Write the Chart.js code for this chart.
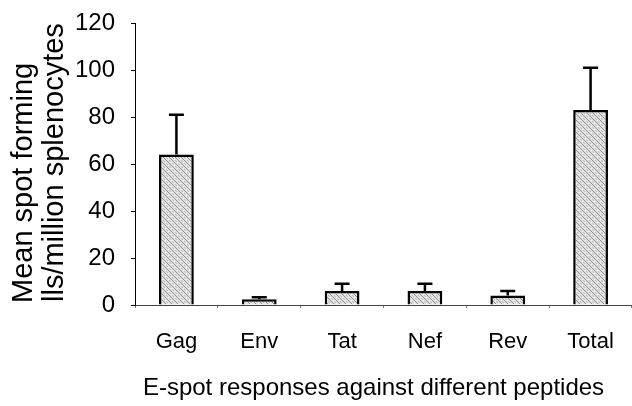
<!DOCTYPE html>
<html>
<head>
<meta charset="utf-8">
<script src="https://cdn.jsdelivr.net/npm/chart.js@4.4.1/dist/chart.umd.min.js"></script>
<style>
html,body{margin:0;padding:0;background:#fff;}
#wrap{width:632px;height:406px;position:relative;}
</style>
</head>
<body>
<div id="wrap"><canvas id="c" width="632" height="406"></canvas></div>
<script>
const categories = ['Gag', 'Env', 'Tat', 'Nef', 'Rev', 'Total'];
const means = [64, 2.5, 6, 6, 4, 83];
const errors = [17, 0.8, 3, 3, 2, 18];
const yTicks = [0, 20, 40, 60, 80, 100, 120];
const yTitleLines = ['Mean spot forming', 'lls/million splenocytes'];
const xTitle = 'E-spot responses against different peptides';

function makePattern() {
  const p = document.createElement('canvas');
  p.width = 6; p.height = 6;
  const g = p.getContext('2d');
  g.fillStyle = '#e4e4e4';
  g.fillRect(0, 0, 6, 6);
  g.fillStyle = '#8c8c8c';
  for (let i = 0; i < 6; i++) g.fillRect(i, i, 1, 1);
  g.fillStyle = '#b8b8b8';
  for (let i = 0; i < 6; i++) g.fillRect((i + 3) % 6, i, 1, 1);
  g.fillStyle = '#f4f4f4';
  g.fillRect(0, 3, 1, 1); g.fillRect(3, 0, 1, 1);
  return g.createPattern(p, 'repeat');
}
const ctx0 = document.getElementById('c').getContext('2d');
const pattern = makePattern();

const errorBars = {
  id: 'errorBars',
  afterDatasetsDraw(chart) {
    const ctx = chart.ctx;
    const meta = chart.getDatasetMeta(0);
    const y = chart.scales.y;
    ctx.save();
    ctx.strokeStyle = '#000';
    ctx.lineWidth = 2.5;
    meta.data.forEach((bar, i) => {
      const x = bar.x;
      const yTop = y.getPixelForValue(means[i] + errors[i]);
      const yBase = y.getPixelForValue(means[i]);
      ctx.beginPath();
      ctx.moveTo(x, yBase);
      ctx.lineTo(x, yTop);
      ctx.moveTo(x - 7.5, yTop);
      ctx.lineTo(x + 7.5, yTop);
      ctx.stroke();
    });
    ctx.restore();
  }
};

const titles = {
  id: 'titles',
  afterDraw(chart) {
    const ctx = chart.ctx;
    ctx.save();
    ctx.fillStyle = '#000';
    ctx.font = '24px "Liberation Sans", Arial, sans-serif';
    ctx.textAlign = 'center';
    ctx.textBaseline = 'alphabetic';
    ctx.fillText(xTitle, 373.5, 395);
    ctx.font = '29px "Liberation Sans", Arial, sans-serif';
    ctx.textAlign = 'left';
    const pos = [[32, 303], [63, 302]];
    yTitleLines.forEach((t, i) => {
      ctx.save();
      ctx.translate(pos[i][0], pos[i][1]);
      ctx.rotate(-Math.PI / 2);
      ctx.fillText(t, 0, 0);
      ctx.restore();
    });
    ctx.restore();
  }
};

const bg = {
  id: 'bg',
  beforeDraw(chart) {
    const c = chart.ctx;
    c.save();
    c.fillStyle = '#fff';
    c.fillRect(0, 0, chart.width, chart.height);
    c.restore();
  }
};

new Chart(ctx0, {
  type: 'bar',
  data: {
    labels: categories,
    datasets: [{
      data: means,
      backgroundColor: pattern,
      borderColor: '#000',
      borderWidth: 2.5,
      borderSkipped: 'start',
      barPercentage: 0.42,
      categoryPercentage: 1.0
    }]
  },
  options: {
    responsive: false,
    animation: false,
    devicePixelRatio: 1,
    layout: { padding: { top: 23, right: 0, left: 0, bottom: 0 } },
    plugins: { legend: { display: false }, tooltip: { enabled: false } },
    scales: {
      x: {
        afterFit(s) { s.height = 101; s.paddingLeft = 0; s.paddingRight = 0; },
        grid: { display: true, drawOnChartArea: false, drawTicks: true, tickLength: 3, color: '#777', offset: true },
        border: { display: true, color: '#444', width: 1 },
        ticks: {
          color: '#000',
          padding: 21,
          font: { family: '"Liberation Sans", Arial', size: 22 }
        }
      },
      y: {
        min: 0, max: 120,
        afterFit(s) { s.width = 135; s.paddingTop = 0; s.paddingBottom = 0; },
        afterBuildTicks(s) { s.ticks = yTicks.map(v => ({ value: v })); },
        grid: { display: true, drawOnChartArea: false, drawTicks: true, tickLength: 4, color: '#000' },
        border: { display: true, color: '#000', width: 1 },
        ticks: {
          color: '#000',
          padding: 16,
          font: { family: '"Liberation Sans", Arial', size: 24 }
        }
      }
    }
  },
  plugins: [bg, errorBars, titles]
});
</script>
</body>
</html>
